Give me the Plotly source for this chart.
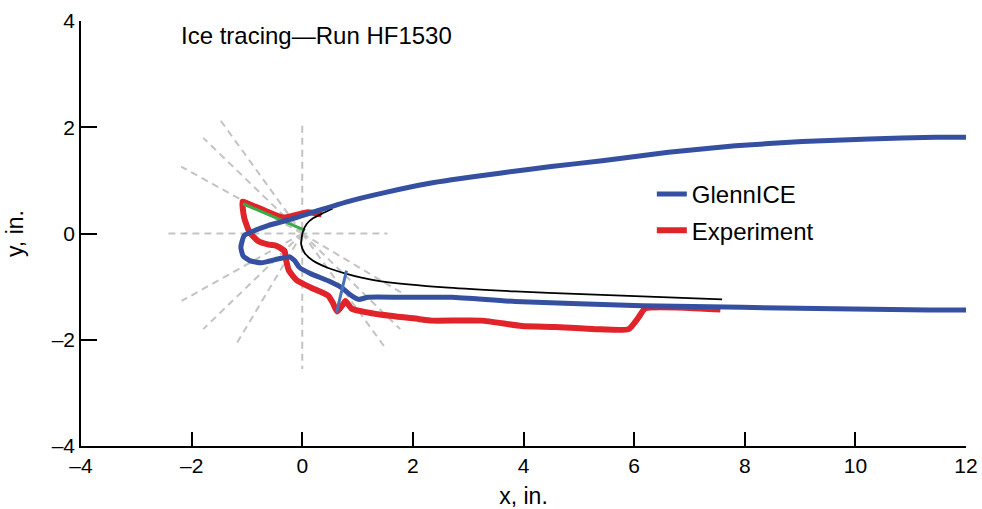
import plotly.graph_objects as go

# ---- data (inches) ----
glennice_x = [12.03, 11.45, 10.25, 9.04, 7.83, 6.62, 5.42, 4.5, 3.6, 2.7, 2.28, 1.49, 0.89, 0.28, -0.2,
              -0.62, -0.92, -1.05, -1.11, -1.07, -0.95, -0.74, -0.44, -0.23, -0.14, -0.05, 0.16, 0.47,
              0.71, 0.89, 1.02, 1.19, 1.79, 2.7, 3.85, 6.14, 7.95, 11.33, 12.03]
glennice_y = [1.81, 1.81, 1.78, 1.73, 1.65, 1.53, 1.37, 1.26, 1.14, 1.01, 0.94, 0.77, 0.62, 0.43, 0.27,
              0.15, 0.03, -0.04, -0.26, -0.42, -0.51, -0.55, -0.48, -0.44, -0.51, -0.64, -0.76, -0.89,
              -1.02, -1.17, -1.24, -1.2, -1.2, -1.2, -1.28, -1.36, -1.39, -1.44, -1.44]

experiment_x = [0.35, 0.1, -0.35, -0.7, -1.0, -1.08, -1.05, -0.95, -0.8, -0.6, -0.47, -0.32, -0.29,
                -0.24, -0.1, 0.16, 0.47, 0.55, 0.63, 0.72, 0.78, 0.9, 1.37, 2.1, 2.34, 3.24, 3.97,
                4.57, 5.3, 5.9, 6.08, 6.2, 7.0, 7.56]
experiment_y = [0.36, 0.4, 0.3, 0.44, 0.57, 0.6, 0.3, 0.02, -0.14, -0.21, -0.23, -0.33, -0.51,
                -0.7, -0.88, -1.02, -1.17, -1.3, -1.47, -1.36, -1.27, -1.42, -1.52, -1.61, -1.64,
                -1.64, -1.74, -1.76, -1.8, -1.8, -1.58, -1.41, -1.40, -1.43]

clean_x = [0.55, 0.35, 0.2, 0.08, 0.01, -0.02, 0.04, 0.19, 0.47, 0.77, 1.07, 1.43, 2.64, 3.85,
           5.05, 6.26, 7.59]
clean_y = [0.47, 0.37, 0.29, 0.18, 0.03, -0.2, -0.36, -0.51, -0.65, -0.75, -0.83, -0.9,
           -1.02, -1.09, -1.14, -1.19, -1.24]

green_x = [-1.07, 0.05]
green_y = [0.56, 0.06]

slice_x = [0.80, 0.62]
slice_y = [-0.70, -1.49]

# dashed reference rays (start and end points)
ray_x_start = [-2.42, 0.0, 0.0, 0.0, 0.0, 0.0, 0.0, 0.0, 0.0, 0.0, 0.0]
ray_y_start = [0.0, 2.03, 0.0, 0.0, 0.0, 0.0, 0.0, 0.0, 0.0, 0.0, 0.0]
ray_x_end = [1.54, 0.0, -1.52, -1.79, -2.19, -2.18, -1.79, -1.18, 1.52, 1.77, 1.85]
ray_y_end = [0.0, -2.55, 2.19, 1.80, 1.26, -1.27, -1.80, -2.06, -2.18, -1.80, -1.15]

x_ticks = [-4, -2, 0, 2, 4, 6, 8, 10, 12]
y_ticks = [-4, -2, 0, 2, 4]

def lbl(v):
    return ("\u2013" + str(abs(v))) if v < 0 else str(v)

BLUE = "#3550a1"
RED = "#e1232a"
FONT = "Liberation Sans, Arial, sans-serif"

fig = go.Figure()

for i in range(len(ray_x_end)):
    fig.add_trace(go.Scatter(x=[ray_x_start[i], ray_x_end[i]], y=[ray_y_start[i], ray_y_end[i]],
                             mode="lines", line=dict(color="#c3c3c3", width=2, dash="7px,5px"),
                             showlegend=False, hoverinfo="skip"))

fig.add_trace(go.Scatter(x=experiment_x, y=experiment_y, mode="lines", name="Experiment",
                         line=dict(color=RED, width=6, shape="spline", smoothing=0.5),
                         legendrank=2, legendgroup="e"))
fig.add_trace(go.Scatter(x=green_x, y=green_y, mode="lines", showlegend=False,
                         line=dict(color="#3aaa47", width=3)))
fig.add_trace(go.Scatter(x=clean_x, y=clean_y, mode="lines", showlegend=False,
                         line=dict(color="black", width=1.8, shape="spline", smoothing=0.6)))
fig.add_trace(go.Scatter(x=glennice_x, y=glennice_y, mode="lines", name="GlennICE",
                         line=dict(color=BLUE, width=5, shape="spline", smoothing=0.5),
                         legendrank=1, legendgroup="g"))
fig.add_trace(go.Scatter(x=slice_x, y=slice_y, mode="lines", showlegend=False,
                         line=dict(color="#4a70b8", width=3)))

fig.add_annotation(x=-2.23, y=3.72, xref="x", yref="y", text="Ice tracing\u2014Run HF1530",
                   showarrow=False, xanchor="left", yanchor="middle",
                   font=dict(family=FONT, size=24, color="black"))

fig.update_layout(
    width=982, height=509,
    margin=dict(l=81, r=16, t=21, b=63),
    plot_bgcolor="white", paper_bgcolor="white",
    font=dict(family=FONT, size=21, color="black"),
    showlegend=True,
    legend=dict(x=0.645, y=0.645, xanchor="left", yanchor="top", bgcolor="rgba(0,0,0,0)",
                font=dict(family=FONT, size=24, color="black"), tracegroupgap=2,
                traceorder="grouped"),
    xaxis=dict(range=[-4, 12], tickvals=x_ticks, ticktext=[lbl(v) for v in x_ticks],
               showline=True, linecolor="black", linewidth=1.5, ticks="inside", ticklen=14,
               tickwidth=1.5, tickcolor="black", showgrid=False, zeroline=False,
               automargin=False,
               title=dict(text="x, in.", standoff=12, font=dict(size=23)),
               tickfont=dict(size=21)),
    yaxis=dict(range=[-4, 4], tickvals=y_ticks, ticktext=[lbl(v) for v in y_ticks],
               showline=True, linecolor="black", linewidth=1.5, ticks="inside", ticklen=16,
               tickwidth=1.5, tickcolor="black", showgrid=False, zeroline=False,
               automargin=False,
               title=dict(text="y, in.", standoff=22, font=dict(size=23)),
               tickfont=dict(size=21)),
)

fig.write_html("out.html")
